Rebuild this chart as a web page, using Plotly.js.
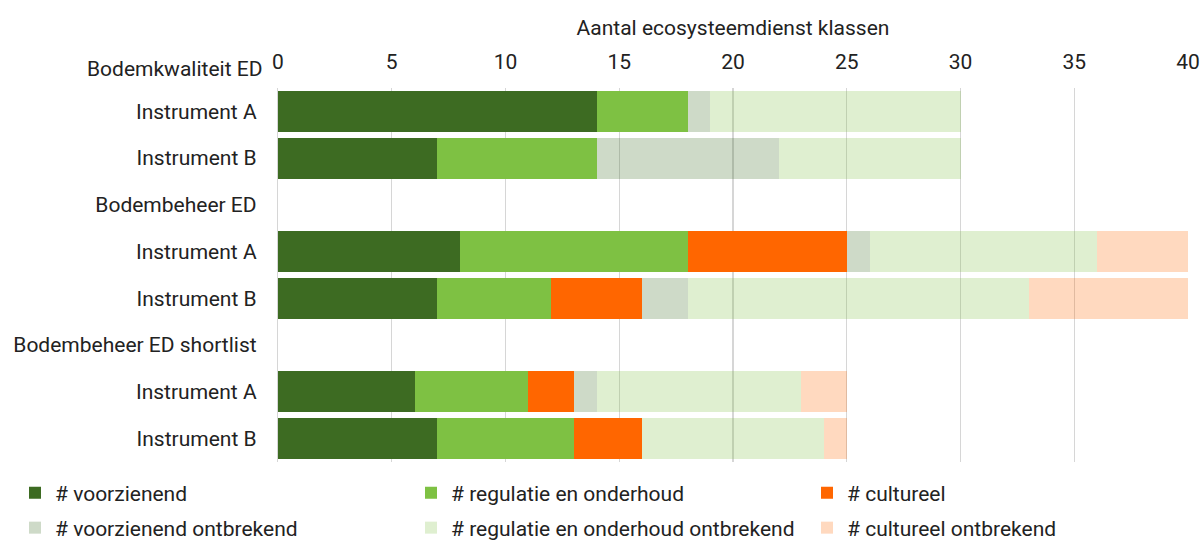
<!DOCTYPE html>
<html>
<head>
<meta charset="utf-8">
<script src="https://cdn.plot.ly/plotly-3.0.1.min.js"></script>
<style>html,body{margin:0;padding:0;background:#fff;}#chart{width:1202px;height:541px;}</style>
</head>
<body>
<div id="chart"></div>
<script>
// Category rows, top to bottom (first row is a header drawn above the plot)
const categories = ["Bodemkwaliteit ED", "Instrument A", "Instrument B", "Bodembeheer ED", "Instrument A", "Instrument B", "Bodembeheer ED shortlist", "Instrument A", "Instrument B"];
const seriesNames = ["# voorzienend", "# regulatie en onderhoud", "# cultureel", "# voorzienend ontbrekend", "# regulatie en onderhoud ontbrekend", "# cultureel ontbrekend"];
const voorzienend = [null, 14, 7, null, 8, 7, null, 6, 7];
const regulatie = [null, 4, 7, null, 10, 5, null, 5, 6];
const cultureel = [null, 0, 0, null, 7, 4, null, 2, 3];
const voorzienendOntbr = [null, 1, 8, null, 1, 2, null, 1, 0];
const regulatieOntbr = [null, 11, 8, null, 10, 15, null, 9, 8];
const cultureelOntbr = [null, 0, 0, null, 4, 7, null, 2, 1];
const xTicks = [0, 5, 10, 15, 20, 25, 30, 35, 40];
const xTitle = "Aantal ecosysteemdienst klassen";

const seriesValues = [voorzienend, regulatie, cultureel, voorzienendOntbr, regulatieOntbr, cultureelOntbr];
const colors = ["#3d6b22", "#7ec143", "#ff6600", "rgba(61,107,34,0.25)", "rgba(126,193,67,0.25)", "rgba(255,102,0,0.25)"];

const W = 1202, H = 541;
const legendColPx = [15, 411, 807];
const legendRowPx = [493, 528];
const legendKey = s => (s === 0 ? "legend" : "legend" + (s + 1));

const plotRows = categories.map((c, i) => i).slice(1);
const nRows = plotRows.length;

const traces = seriesValues.map((vals, s) => ({
  type: "bar",
  orientation: "h",
  name: seriesNames[s],
  y: plotRows,
  x: vals.slice(1),
  marker: {color: colors[s], line: {width: 0}},
  legend: legendKey(s),
  hoverinfo: "name+x"
}));

const font = {family: "Roboto, 'Open Sans', sans-serif", size: 21, color: "#222"};

const layout = {
  width: W,
  height: H,
  margin: {l: 278, r: 14, t: 88, b: 79},
  paper_bgcolor: "#fff",
  plot_bgcolor: "#fff",
  font: font,
  barmode: "stack",
  bargap: 0.12,
  showlegend: true,
  xaxis: {
    side: "top",
    range: [xTicks[0], xTicks[xTicks.length - 1]],
    tickvals: xTicks,
    ticktext: xTicks.map(String),
    showgrid: true,
    gridcolor: "#d6d6d6",
    gridwidth: 1.2,
    zeroline: false,
    showline: false,
    ticks: "",
    ticklabelstandoff: 14,
    tickfont: font,
    title: {text: xTitle, font: font, standoff: 8},
    automargin: false,
    fixedrange: true
  },
  yaxis: {
    range: [nRows + 0.5, 0.5],
    tickvals: plotRows,
    ticktext: categories.slice(1),
    showgrid: false,
    zeroline: false,
    showline: true,
    linecolor: "#d6d6d6",
    linewidth: 1.2,
    ticks: "",
    ticklabelstandoff: 16,
    tickfont: font,
    automargin: false,
    fixedrange: true
  },
  annotations: [{
    text: categories[0],
    xref: "paper", yref: "paper",
    x: 0, y: 1 + 0.5 / nRows,
    xanchor: "right", yanchor: "middle",
    xshift: -14, yshift: -4,
    showarrow: false,
    font: font
  }]
};

seriesNames.forEach((n, s) => {
  layout[legendKey(s)] = {
    orientation: "h",
    xref: "container", yref: "container",
    x: legendColPx[s % 3] / W,
    y: 1 - legendRowPx[Math.floor(s / 3)] / H,
    xanchor: "left", yanchor: "middle",
    font: font,
    itemwidth: 30,
    bgcolor: "rgba(0,0,0,0)",
    borderwidth: 0
  };
});

Plotly.newPlot("chart", traces, layout, {displayModeBar: false, staticPlot: true});
</script>
</body>
</html>
